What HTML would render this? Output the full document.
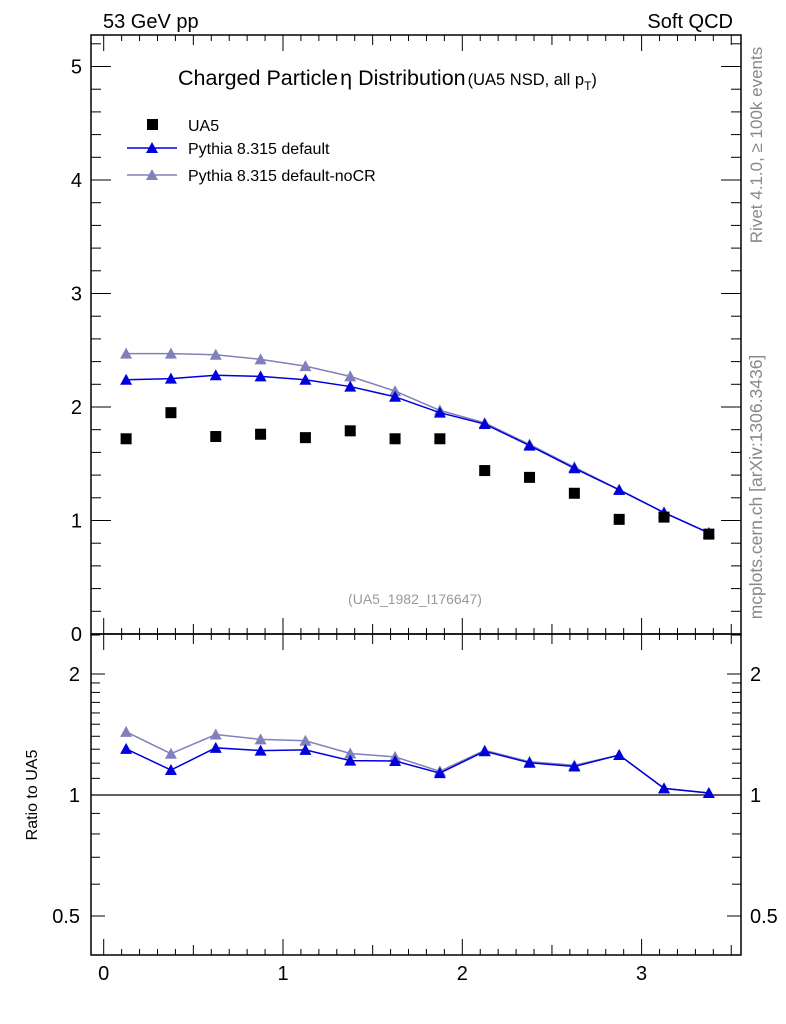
<!DOCTYPE html>
<html><head><meta charset="utf-8"><style>
body{margin:0;background:#fff}
svg{display:block;font-family:"Liberation Sans",sans-serif}
</style></head><body>
<svg id="chartSvg" width="786" height="1024" viewBox="0 0 786 1024" xmlns="http://www.w3.org/2000/svg">
<g id="plotLayer"></g>
</svg>
<script>
var xCenters=[0.125,0.375,0.625,0.875,1.125,1.375,1.625,1.875,2.125,2.375,2.625,2.875,3.125,3.375];
var ua5=[1.72,1.95,1.74,1.76,1.73,1.79,1.72,1.72,1.44,1.38,1.24,1.01,1.03,0.88];
var pyDefault=[2.24,2.25,2.28,2.27,2.24,2.18,2.09,1.95,1.85,1.66,1.46,1.27,1.07,0.89];
var pyNoCR=[2.47,2.47,2.46,2.42,2.36,2.27,2.14,1.97,1.86,1.67,1.47,1.27,1.07,0.89];
var xTicks=[0,1,2,3];
var mainYTicks=[0,1,2,3,4,5];
var ratioTicks=[0.5,1,2];

function drawChart(){
var NS="http://www.w3.org/2000/svg";
var layer=document.getElementById('plotLayer');
var PL=91,PR=741,PT=35,PM=634,PB=955;
function sx(v){return 103.7+v*179.3;}
function sy(v){return 634-v*113.5;}
function syr(v){return 795-Math.log(v)/Math.LN2*121;}
function mk(tag,attrs,parent){var e=document.createElementNS(NS,tag);for(var k in attrs){e.setAttribute(k,attrs[k]);}(parent||layer).appendChild(e);return e;}
function ln(x1,y1,x2,y2,w,col){return mk('line',{x1:x1,y1:y1,x2:x2,y2:y2,stroke:col||'#000','stroke-width':w||1});}
function tx(x,y,s,size,anchor,fill){var t=mk('text',{x:x,y:y,'font-size':size,'text-anchor':anchor||'start',fill:fill||'#000'});t.textContent=s;return t;}
var i,t;

var f1=mk('rect',{x:PL,y:PT,width:PR-PL,height:PM-PT,fill:'none',stroke:'#000','stroke-width':1.5});


var f2=mk('rect',{x:PL,y:PM,width:PR-PL,height:PB-PM,fill:'none',stroke:'#000','stroke-width':1.5});



for(i=0;i<=35;i++){var v=i/10;var x=sx(v);if(x<PL||x>PR)continue;
 var major=i%10===0,mid=i%5===0;var len=major?16:(mid?10:6);
 ln(x,PT,x,PT+len);ln(x,PM,x,PM-len);ln(x,PM,x,PM+len);ln(x,PB,x,PB-len);}
xTicks.forEach(function(v){var t=tx(sx(v),980,String(v),20,'middle');
 
 });

for(i=0;i<=26;i++){var v2=i/5;var y=sy(v2);if(y<PT)continue;var len2=(i%5===0)?20:10;
 ln(PL,y,PL+len2,y);ln(PR,y,PR-len2,y);}
mainYTicks.forEach(function(v){var t=tx(82,sy(v)+7,String(v),20,'end');
 
 });

var rMinor=[0.4,0.5,0.6,0.7,0.8,0.9,1,1.1,1.2,1.3,1.4,1.5,1.6,1.7,1.8,1.9,2,2.5];
rMinor.forEach(function(v){var y=syr(v);if(y<PM||y>PB)return;var len=ratioTicks.indexOf(v)>=0?14:9;ln(PL,y,PL+len,y);ln(PR,y,PR-len,y);});
ratioTicks.forEach(function(v){var t=tx(80,syr(v)+7,String(v),20,'end');
 
 
 var t2=tx(750,syr(v)+7,String(v),20,'start');
 
 });
var one=ln(PL,syr(1),PR,syr(1),1.3);



function tri(x,y,col,parent){return mk('polygon',{points:(x-6)+','+(y+5)+' '+(x+6)+','+(y+5)+' '+x+','+(y-6),fill:col},parent);}
function series(vals,col,yf,name){
 var pts=xCenters.map(function(v,j){return sx(v)+','+yf(vals[j]);}).join(' ');
 var p=mk('polyline',{points:pts,fill:'none',stroke:col,'stroke-width':1.5});
 
 
 xCenters.forEach(function(v,j){var m=tri(sx(v),yf(vals[j]),col);
  
  });}
var cD='#0000dd',cN='#8080bb';
series(pyNoCR,cN,sy,'pythia-nocr');
series(pyDefault,cD,sy,'pythia-default');
xCenters.forEach(function(v,j){var r=mk('rect',{x:sx(v)-5.5,y:sy(ua5[j])-5.5,width:11,height:11,fill:'#000'});
 
 });
series(pyNoCR.map(function(v,j){return v/ua5[j];}),cN,syr,'ratio-nocr');
series(pyDefault.map(function(v,j){return v/ua5[j];}),cD,syr,'ratio-default');

t=tx(103,28,'53 GeV pp',20);


t=tx(733,28,'Soft QCD',20,'end');


t=mk('text',{x:178,y:85,'font-size':21.5});


var s1=mk('tspan',{},t);s1.textContent='Charged Particle';
var s1b=mk('tspan',{dx:2},t);s1b.textContent='η Distribution';
var s2=mk('tspan',{'font-size':16.5,dx:2},t);s2.textContent='(UA5 NSD, all p';
var s3=mk('tspan',{'font-size':12,dy:5},t);s3.textContent='T';
var s4=mk('tspan',{'font-size':16.5,dy:-5},t);s4.textContent=')';
t=tx(415,604,'(UA5_1982_I176647)',14,'middle','#999');



var lg=mk('g',{});


mk('rect',{x:147,y:119,width:11,height:11,fill:'#000'},lg);
t=tx(188,131,'UA5',16);


ln(127,148,177,148,1.5,cD);tri(152,148,cD);
t=tx(188,154,'Pythia 8.315 default',16);


ln(127,175,177,175,1.5,cN);tri(152,175,cN);
t=tx(188,181,'Pythia 8.315 default-noCR',16);



t=mk('text',{x:0,y:0,'font-size':17,fill:'#888','text-anchor':'middle',transform:'translate(762,145) rotate(-90)'});
t.textContent='Rivet 4.1.0, ≥ 100k events';


t=mk('text',{x:0,y:0,'font-size':17.5,fill:'#888','text-anchor':'middle',transform:'translate(762,487) rotate(-90)'});
t.textContent='mcplots.cern.ch [arXiv:1306.3436]';


t=mk('text',{x:0,y:0,'font-size':16,'text-anchor':'middle',transform:'translate(37,795) rotate(-90)'});
t.textContent='Ratio to UA5';


}
drawChart();
</script>
</body></html>
